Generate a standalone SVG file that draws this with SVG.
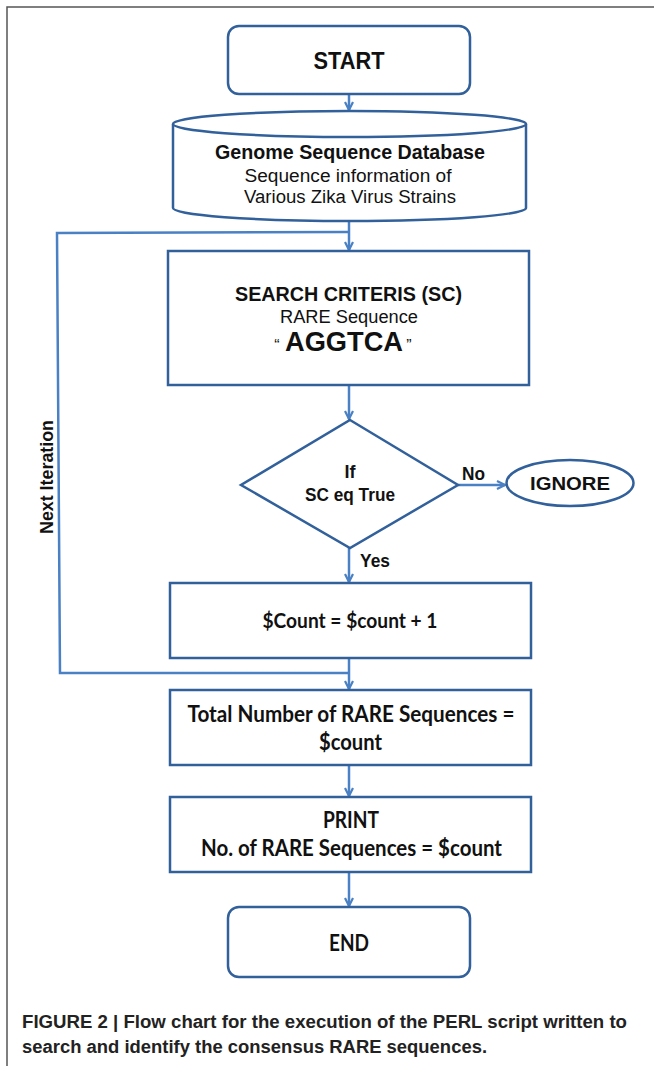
<svg xmlns="http://www.w3.org/2000/svg" width="654" height="1066" viewBox="0 0 654 1066">
<style>
.box{fill:#fff;stroke:#31609b;stroke-width:2.5}
.con{fill:none;stroke:#4a80c4;stroke-width:2.5}
.t{font-family:"Liberation Sans",Arial,sans-serif;fill:#111;text-anchor:middle}
.b{font-weight:bold}
.c{font-family:Lato,"Liberation Sans",sans-serif;font-weight:bold;fill:#111;text-anchor:middle}
.cap{font-family:"Liberation Sans",Arial,sans-serif;font-weight:bold;fill:#222;font-size:18px}
</style>
<defs>
<marker id="ah" viewBox="0 0 10 10" refX="9" refY="5" markerWidth="10" markerHeight="10" markerUnits="userSpaceOnUse" orient="auto">
<path d="M1,1 L9,5 L1,9" fill="none" stroke="#4a80c4" stroke-width="2.2"/>
</marker>
</defs>
<rect width="654" height="1066" fill="#fff"/>
<path d="M7,1066 V7 H654" fill="none" stroke="#555" stroke-width="1.5"/>

<g id="connectors">
<line class="con" x1="349" y1="95" x2="349" y2="110" marker-end="url(#ah)"/>
<line class="con" x1="349" y1="221" x2="349" y2="250" marker-end="url(#ah)"/>
<polyline class="con" points="349,232 57,233 60,673 349,673"/>
<line class="con" x1="349" y1="386" x2="349" y2="419" marker-end="url(#ah)"/>
<line class="con" x1="458" y1="485" x2="505" y2="485" marker-end="url(#ah)"/>
<line class="con" x1="349" y1="548" x2="349" y2="582" marker-end="url(#ah)"/>
<line class="con" x1="349" y1="659" x2="349" y2="689" marker-end="url(#ah)"/>
<line class="con" x1="349" y1="766" x2="349" y2="796" marker-end="url(#ah)"/>
<line class="con" x1="349" y1="873" x2="349" y2="906" marker-end="url(#ah)" stroke-width="3"/>
<text class="t b" font-size="18" transform="translate(53,477) rotate(-90)" textLength="114" lengthAdjust="spacingAndGlyphs">Next Iteration</text>
<text class="t b" font-size="18" x="473.5" y="480" textLength="23" lengthAdjust="spacingAndGlyphs">No</text>
<text class="t b" font-size="18" x="375" y="567" textLength="30" lengthAdjust="spacingAndGlyphs">Yes</text>
</g>

<g id="start">
<rect class="box" x="228" y="26" width="242" height="68" rx="11"/>
<text class="t b" font-size="24" x="349" y="69" textLength="71" lengthAdjust="spacingAndGlyphs">START</text>
</g>

<g id="database">
<path class="box" d="M173,124 V208 A176.5,13 0 0 0 526,208 V124"/>
<ellipse class="box" cx="349.5" cy="124" rx="176.5" ry="13"/>
<text class="t b" font-size="20" x="350" y="159" textLength="270" lengthAdjust="spacingAndGlyphs">Genome Sequence Database</text>
<text class="t" font-size="18" x="348" y="182" textLength="207" lengthAdjust="spacingAndGlyphs">Sequence information of</text>
<text class="t" font-size="18" x="350" y="203" textLength="212" lengthAdjust="spacingAndGlyphs">Various Zika Virus Strains</text>
</g>

<g id="search">
<rect class="box" x="168" y="251" width="361" height="134"/>
<text class="t b" font-size="20" x="348.5" y="301" textLength="227" lengthAdjust="spacingAndGlyphs">SEARCH CRITERIS (SC)</text>
<text class="t" font-size="18" x="349" y="323" textLength="138" lengthAdjust="spacingAndGlyphs">RARE Sequence</text>
<text class="t" font-size="16" x="277" y="351">“</text>
<text class="t b" font-size="28" x="344" y="351" textLength="118" lengthAdjust="spacingAndGlyphs">AGGTCA</text>
<text class="t" font-size="16" x="409" y="351">”</text>
</g>

<g id="decision">
<polygon class="box" points="350,420 458,485 350,548 241,485"/>
<text class="t b" font-size="18" x="350" y="478">If</text>
<text class="t b" font-size="18" x="350" y="501" textLength="90" lengthAdjust="spacingAndGlyphs">SC eq True</text>
</g>

<g id="ignore">
<ellipse class="box" cx="570" cy="483" rx="63.5" ry="23"/>
<text class="t b" font-size="19" x="570" y="490" textLength="80" lengthAdjust="spacingAndGlyphs">IGNORE</text>
</g>

<g id="count">
<rect class="box" x="170" y="583" width="361" height="75"/>
<text class="c" font-size="21" x="350" y="628" textLength="175" lengthAdjust="spacingAndGlyphs">$Count = $count + 1</text>
</g>

<g id="total">
<rect class="box" x="170" y="690" width="361" height="75"/>
<text class="c" font-size="22" x="351" y="722" textLength="327" lengthAdjust="spacingAndGlyphs">Total Number of RARE Sequences =</text>
<text class="c" font-size="22" x="350.5" y="750" textLength="63" lengthAdjust="spacingAndGlyphs">$count</text>
</g>

<g id="print">
<rect class="box" x="170" y="797" width="361" height="75"/>
<text class="c" font-size="22" x="351" y="828" textLength="56" lengthAdjust="spacingAndGlyphs">PRINT</text>
<text class="c" font-size="22" x="351.5" y="856" textLength="301" lengthAdjust="spacingAndGlyphs">No. of RARE Sequences = $count</text>
</g>

<g id="end">
<rect class="box" x="228" y="907" width="242" height="70" rx="11"/>
<text class="c" font-size="22" x="349" y="951" textLength="40" lengthAdjust="spacingAndGlyphs">END</text>
</g>

<g id="caption">
<text class="cap" x="22" y="1028" textLength="605" lengthAdjust="spacingAndGlyphs">FIGURE 2 | Flow chart for the execution of the PERL script written to</text>
<text class="cap" x="22" y="1053" textLength="465" lengthAdjust="spacingAndGlyphs">search and identify the consensus RARE sequences.</text>
</g>
</svg>
